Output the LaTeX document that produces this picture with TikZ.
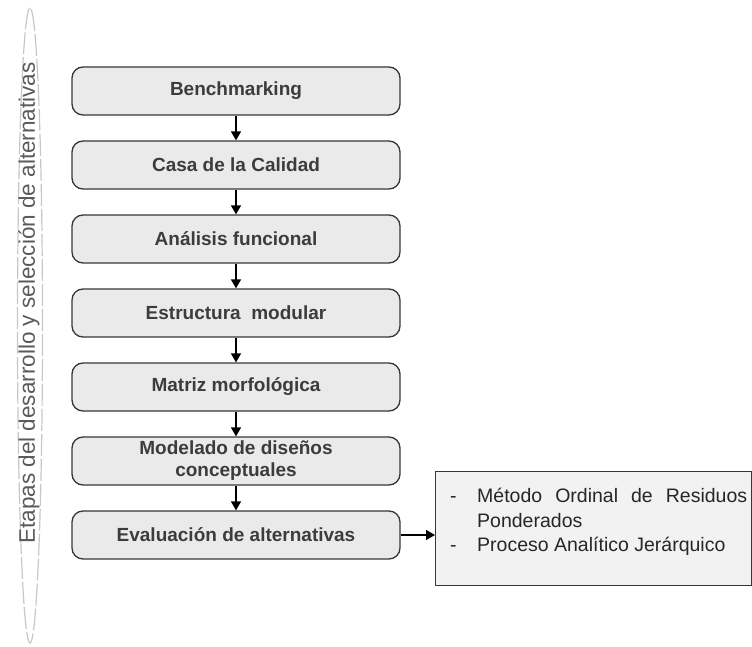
\documentclass[tikz,border=0pt]{standalone}
\usepackage{fontspec}
\setmainfont{Liberation Sans}
\usepackage{tikz}
\usetikzlibrary{arrows.meta,positioning,shapes.geometric}
\definecolor{edge}{RGB}{55,55,55}
\definecolor{stagefill}{RGB}{234,234,234}
\definecolor{stagetext}{RGB}{60,60,60}
\definecolor{methodfill}{RGB}{242,242,242}
\definecolor{sidetext}{RGB}{90,90,90}
\tikzset{
  stage/.style={draw=edge, line width=1.3pt, rounded corners=11pt, fill=stagefill, align=center,
    minimum width=328pt, minimum height=48pt, inner sep=2pt, text=stagetext,
    font=\fontsize{19}{22}\selectfont\bfseries},
  flow/.style={draw=black, line width=1.6pt, -{Triangle[length=9pt,width=10pt]}},
  methods/.style={draw=edge, line width=1.3pt, fill=methodfill, minimum width=316pt, minimum height=114pt,
    inner sep=0pt},
  mtext/.style={text width=297pt, align=justify, inner sep=0pt, text=black!85,
    font=\fontsize{19.5}{24.5}\selectfont},
  sidelbl/.style={rotate=90, text=sidetext, inner sep=0pt, font=\fontsize{22.5}{26}\selectfont},
  sidering/.style={draw=black!22, line width=1.2pt, dash pattern=on 22pt off 3pt, ellipse,
    minimum width=635pt, minimum height=25pt, rotate=90}
}
\begin{document}
\begin{tikzpicture}[x=1pt, y=1pt, node distance=24.7pt]
  \useasboundingbox (0,0) rectangle (752,-647);
  % etiqueta lateral
  \node[sidering] (ring) at (30,-325.5) {};
  \node[sidelbl] (etapas) at (29,-303) {Etapas del desarrollo y selección de alternativas};
  % etapas
  \node[stage] (bench) at (236,-91) {Benchmarking};
  \node[stage, below=of bench] (casa) {Casa de la Calidad};
  \node[stage, below=of casa] (funcional) {Análisis funcional};
  \node[stage, below=of funcional] (modular) {Estructura\ \ modular};
  \node[stage, below=of modular] (matriz) {Matriz morfológica};
  \node[stage, below=of matriz] (modelado) {Modelado de diseños\\conceptuales};
  \node[stage, below=of modelado] (evaluacion) {Evaluación de alternativas};
  \draw[flow] (bench) -- (casa);
  \draw[flow] (casa) -- (funcional);
  \draw[flow] (funcional) -- (modular);
  \draw[flow] (modular) -- (matriz);
  \draw[flow] (matriz) -- (modelado);
  \draw[flow] (modelado) -- (evaluacion);
  % metodos de evaluacion
  \node[methods, anchor=north west] (mbox) at (435,-471) {};
  \node[mtext, anchor=north west] (mtxt) at (450,-488) {\hyphenpenalty=10000
    \hangindent=27pt\hangafter=1\makebox[27pt][l]{-}Método Ordinal de Residuos Ponderados\par
    \makebox[27pt][l]{-}Proceso Analítico Jerárquico};
  \draw[flow] (evaluacion.east) -- (evaluacion.east -| mbox.west);
\end{tikzpicture}
\end{document}
